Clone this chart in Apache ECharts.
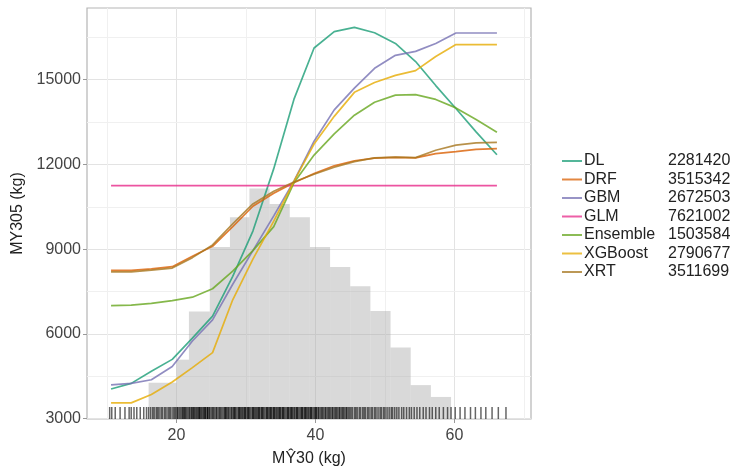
<!DOCTYPE html>
<html><head><meta charset="utf-8">
<script src="https://cdn.jsdelivr.net/npm/echarts@6/dist/echarts.min.js"></script>
<style>html,body{margin:0;padding:0;background:#fff}#c{width:744px;height:472px}</style>
</head><body><div id="c"></div>
<script>
// ---- data ----
const xGrid = [10.6,13.5,16.4,19.4,22.3,25.2,28.1,31.0,34.0,36.9,39.8,42.7,45.6,48.5,51.5,54.4,57.3,60.2,63.1,66.1];
const seriesNames = ['DL','DRF','GBM','GLM','Ensemble','XGBoost','XRT'];
const seriesScores = ['2281420','3515342','2672503','7621002','1503584','2790677','3511699'];
const dlValues = [4050,4250,4680,5100,5850,6630,8040,9640,11850,14300,16120,16700,16850,16660,16280,15640,14790,13980,13150,12340];
const drfValues = [8250,8250,8300,8380,8750,9100,9800,10520,10980,11350,11680,11950,12130,12220,12250,12230,12380,12450,12530,12560];
const gbmValues = [4200,4250,4380,4850,5750,6500,7760,8950,10180,11410,12820,13930,14700,15400,15860,16000,16280,16650,16650,16650];
const glmValues = [11250,11250,11250,11250,11250,11250,11250,11250,11250,11250,11250,11250,11250,11250,11250,11250,11250,11250,11250,11250];
const ensembleValues = [7000,7020,7080,7180,7300,7600,8220,8950,9800,11350,12330,13080,13740,14200,14450,14470,14300,14000,13590,13140];
const xgboostValues = [3560,3560,3860,4300,4810,5340,7210,8650,9990,11400,12720,13700,14550,14900,15150,15320,15820,16240,16240,16240];
const xrtValues = [8200,8200,8260,8330,8700,9150,9900,10600,11050,11380,11650,11900,12100,12230,12260,12240,12500,12680,12760,12780];

const histEdges = [16.0,20.0,21.8,24.8,27.7,30.5,33.4,36.3,39.2,42.1,45.0,47.9,50.8,53.7,56.6,59.5];
const histHeights = [4270,5090,6790,9080,10130,11150,10600,10130,9080,8370,7690,6810,5520,4190,3770];

const rugX = [10.4,10.7,11.2,11.9,12.6,13.2,13.5,13.9,14.3,14.8,15.3,15.7,
16.0,16.3,16.6,16.8,17.1,17.3,17.5,17.8,18.0,18.3,18.5,18.8,19.0,19.2,19.5,19.7,19.9,
20.1,20.2,20.4,20.6,20.8,20.9,21.1,21.1,21.3,21.4,21.6,21.8,21.9,22.1,22.2,22.4,22.4,22.6,22.7,22.9,23.0,23.2,23.3,23.3,23.5,23.6,23.8,23.9,24.1,24.1,24.2,24.4,24.5,24.5,24.7,24.8,
25.0,25.2,25.3,25.5,25.7,25.8,26.0,26.2,26.3,26.5,26.7,26.9,27.0,27.1,27.2,27.4,27.5,27.7,27.9,28.0,28.2,28.3,28.4,28.5,28.7,28.9,29.0,29.1,29.2,29.4,29.5,29.7,29.8,29.9,
30.0,30.2,30.3,30.4,30.5,30.7,30.9,31.0,31.1,31.2,31.4,31.5,31.7,31.8,31.9,32.0,32.2,32.3,32.4,32.5,32.7,32.9,33.0,33.1,33.2,33.4,33.5,33.6,33.7,33.9,
34.0,34.1,34.2,34.4,34.5,34.7,34.8,34.9,35.0,35.2,35.3,35.4,35.5,35.7,35.9,36.0,36.1,36.2,36.4,36.5,36.6,36.7,36.9,37.0,37.2,37.3,37.4,37.5,37.7,37.9,
38.0,38.1,38.2,38.4,38.5,38.6,38.7,38.9,39.0,39.2,39.3,39.4,39.5,39.7,39.9,40.0,40.1,40.2,40.4,40.5,40.7,40.9,41.0,41.2,41.4,41.5,41.7,41.9,
42.0,42.2,42.4,42.5,42.7,42.9,43.0,43.2,43.4,43.5,43.7,43.9,44.0,44.2,44.4,44.5,44.7,44.9,
45.1,45.3,45.6,45.8,46.0,46.3,46.5,46.8,47.0,47.2,47.5,47.7,48.0,48.2,48.5,48.7,49.0,49.3,49.5,49.8,50.0,50.3,50.6,50.9,51.1,51.4,51.7,
52.0,52.4,52.7,53.1,53.5,53.8,54.2,54.6,55.0,55.5,55.9,56.4,56.8,57.3,57.8,
58.4,59.0,59.5,60.1,60.8,61.5,62.3,63.0,63.8,64.5,65.4,66.3,67.4];

const xTickValues = [20,40,60];
const yTickValues = [3000,6000,9000,12000,15000];
const xMinorValues = [10,30,50,70];
const yMinorValues = [4500,7500,10500,13500,16500];

// ---- chart ----
const X_MIN = 7.14, X_MAX = 71.0, Y_MIN = 2990, Y_MAX = 17535;
const colors = ['#1B9E77','#D95F02','#7570B3','#E7298A','#66A61E','#E6AB02','#A6761D'];
const allValues = [dlValues, drfValues, gbmValues, glmValues, ensembleValues, xgboostValues, xrtValues];
const FONT = "'Liberation Sans', Arial, sans-serif";

const chart = echarts.init(document.getElementById('c'), null, {renderer:'canvas'});

const gridLines = [];
xTickValues.forEach(v => gridLines.push({xAxis: v, lineStyle:{color:'#e3e3e3', width:1, type:'solid'}}));
yTickValues.forEach(v => gridLines.push({yAxis: v, lineStyle:{color:'#e3e3e3', width:1, type:'solid'}}));
xMinorValues.forEach(v => gridLines.push({xAxis: v, lineStyle:{color:'#f0f0f0', width:1, type:'solid'}}));
yMinorValues.forEach(v => gridLines.push({yAxis: v, lineStyle:{color:'#f0f0f0', width:1, type:'solid'}}));

const series = [];
series.push({
  name:'_grid', type:'line', data:[], silent:true, z:0,
  markLine:{silent:true, symbol:['none','none'], label:{show:false}, z:0, animation:false, data: gridLines}
});
series.push({
  name:'_hist', type:'custom', silent:true, z:1,
  data: histHeights.map((h,i)=>[histEdges[i], histEdges[i+1], h]),
  encode:{x:[0,1], y:2},
  renderItem(params, api){
    const p0 = api.coord([api.value(0), Y_MIN]);
    const p1 = api.coord([api.value(1), api.value(2)]);
    return {type:'rect', shape:{x:p0[0], y:p1[1], width:p1[0]-p0[0], height:p0[1]-p1[1]},
      style:{fill:'rgba(165,165,165,0.42)'}};
  }
});
series.push({
  name:'_rug', type:'custom', silent:true, z:2,
  data: rugX.map(v=>[v, Y_MIN]),
  encode:{x:0, y:1},
  renderItem(params, api){
    const p = api.coord([api.value(0), Y_MIN]);
    return {type:'line', shape:{x1:p[0], y1:p[1], x2:p[0], y2:p[1]-12},
      style:{stroke:'rgba(0,0,0,0.6)', lineWidth:1.5}};
  }
});
seriesNames.forEach((n,i)=>{
  series.push({
    name:n, type:'line', symbol:'none', z:3+i,
    data: xGrid.map((x,j)=>[x, allValues[i][j]]),
    lineStyle:{color:colors[i], width:1.7, opacity:0.8},
    itemStyle:{color:colors[i]},
    emphasis:{disabled:true}
  });
});

const scoreMap = {};
seriesNames.forEach((n,i)=>scoreMap[n]=seriesScores[i]);

chart.setOption({
  animation:false,
  backgroundColor:'#fff',
  textStyle:{fontFamily:FONT},
  grid:{left:87, right:213, top:8, bottom:51, show:true, borderColor:'#b5b5b5', borderWidth:1.2, backgroundColor:'#fff'},
  legend:{
    data: seriesNames,
    orient:'vertical', left:557, top:148,
    icon:'rect', itemWidth:20, itemHeight:2, itemGap:2.5,
    itemStyle:{opacity:0.75},
    textStyle:{fontFamily:FONT, fontSize:16, color:'#222', padding:[0,0,0,-3],
      rich:{n:{width:84, fontSize:16, color:'#222', fontFamily:FONT, lineHeight:16},
            v:{fontSize:16, color:'#222', fontFamily:FONT, lineHeight:16}}},
    formatter: name => '{n|' + name + '}{v|' + scoreMap[name] + '}',
    selectedMode:false
  },
  xAxis:{
    type:'value', min:X_MIN, max:X_MAX,
    name:'MŶ30 (kg)', nameLocation:'middle', nameGap:32,
    nameTextStyle:{fontFamily:FONT, fontSize:16, color:'#222'},
    axisLine:{show:false},
    axisTick:{show:true, customValues:xTickValues, length:4, lineStyle:{color:'#999'}},
    axisLabel:{customValues:xTickValues, margin:9, fontSize:16, color:'#444', fontFamily:FONT},
    splitLine:{show:false}
  },
  yAxis:{
    type:'value', min:Y_MIN, max:Y_MAX,
    name:'MY305 (kg)', nameLocation:'middle', nameGap:54, nameRotate:90,
    nameTextStyle:{fontFamily:FONT, fontSize:16, color:'#222'},
    axisLine:{show:false},
    axisTick:{show:true, customValues:yTickValues, length:4, lineStyle:{color:'#999'}},
    axisLabel:{customValues:yTickValues, formatter: v => String(v), margin:6, fontSize:16, color:'#444', fontFamily:FONT},
    splitLine:{show:false}
  },
  series: series
});
</script></body></html>
